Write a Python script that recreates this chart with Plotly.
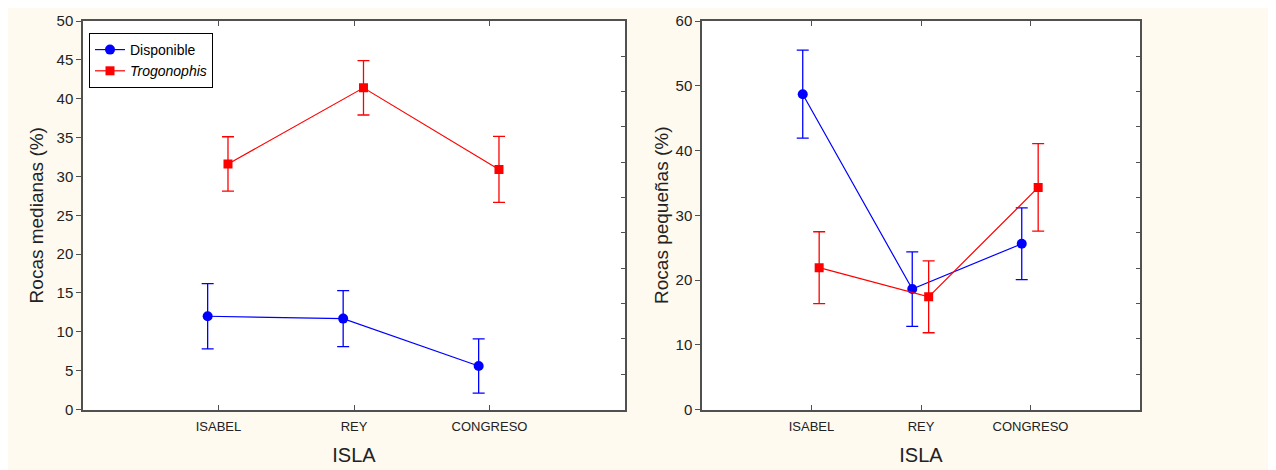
import plotly.graph_objects as go

# ---- data ----
categories = ["ISABEL", "REY", "CONGRESO"]

med_disp = [12.0, 11.7, 5.6]
med_disp_err = [4.2, 3.6, 3.5]
med_trog = [31.6, 41.4, 30.9]
med_trog_err = [3.5, 3.5, 4.25]

peq_disp = [48.7, 18.6, 25.6]
peq_disp_err = [6.8, 5.75, 5.55]
peq_trog = [21.9, 17.4, 34.3]
peq_trog_err = [5.55, 5.55, 6.75]

series_names = ["Disponible", "<i>Trogonophis</i>"]
left_ytitle = "Rocas medianas (%)"
right_ytitle = "Rocas pequeñas (%)"
xtitle = "ISLA"

# ---- figure ----
W, H = 1276, 470
OFF = 8  # page body margin
BLUE = "#0000FF"
RED = "#FF0000"
CREAM = "#FEFAF0"
FONT = "Liberation Sans, Arial, sans-serif"

pos = list(range(len(categories)))
off_b, off_r = -0.08, 0.07

fig = go.Figure()


def add_pair(disp, disp_err, trog, trog_err, xa, ya, show):
    fig.add_trace(go.Scatter(
        x=[p + off_b for p in pos], y=disp, name=series_names[0],
        mode="lines+markers", xaxis=xa, yaxis=ya, showlegend=show,
        line=dict(color=BLUE, width=1.2),
        marker=dict(symbol="circle", size=10, color=BLUE),
        error_y=dict(type="data", array=disp_err, visible=True,
                     color=BLUE, thickness=1.3, width=6),
    ))
    fig.add_trace(go.Scatter(
        x=[p + off_r for p in pos], y=trog, name=series_names[1],
        mode="lines+markers", xaxis=xa, yaxis=ya, showlegend=show,
        line=dict(color=RED, width=1.2),
        marker=dict(symbol="square", size=9, color=RED),
        error_y=dict(type="data", array=trog_err, visible=True,
                     color=RED, thickness=1.3, width=6),
    ))


add_pair(med_disp, med_disp_err, med_trog, med_trog_err, "x", "y", True)
add_pair(peq_disp, peq_disp_err, peq_trog, peq_trog_err, "x2", "y2", False)


def px_x(v):
    return (v - OFF) / W


def px_y(v):
    return 1 - (v - OFF) / H


ydom = [px_y(409.5), px_y(21)]
xdom1 = [px_x(83), px_x(625)]
xdom2 = [px_x(702), px_x(1140)]

AX = "#505050"
common_x = dict(
    range=[-1, 3], tickvals=pos, ticktext=categories,
    ticks="inside", ticklen=5, tickcolor=AX,
    showline=True, linecolor=AX, linewidth=1.5, mirror="ticks",
    showgrid=False, zeroline=False, automargin=False,
    ticklabelstandoff=4,
    tickfont=dict(family=FONT, size=13, color="#222"),
    title=dict(text=xtitle, font=dict(family=FONT, size=20, color="#222"), standoff=15),
)
common_y = dict(
    ticks="outside", ticklen=5, tickcolor=AX,
    showline=True, linecolor=AX, linewidth=1.5, mirror=True,
    showgrid=False, zeroline=False, automargin=False,
    tickfont=dict(family=FONT, size=15, color="#222"),
)
right_ticks = dict(
    range=[0, 11], dtick=1, ticks="inside", ticklen=4, tickcolor=AX,
    showticklabels=False, showline=False, showgrid=False, zeroline=False,
    side="right", automargin=False,
)

fig.update_layout(
    width=W, height=H,
    margin=dict(l=0, r=0, t=0, b=0, autoexpand=False),
    paper_bgcolor=CREAM, plot_bgcolor="white",
    font=dict(family=FONT, color="#222"),
    xaxis=dict(domain=xdom1, anchor="y", **common_x),
    xaxis2=dict(domain=xdom2, anchor="y2", **common_x),
    yaxis=dict(domain=ydom, anchor="x", range=[0, 50], dtick=5,
               title=dict(text=left_ytitle, font=dict(family=FONT, size=19, color="#222"), standoff=8),
               **common_y),
    yaxis2=dict(domain=ydom, anchor="x2", range=[0, 60], dtick=10,
                title=dict(text=right_ytitle, font=dict(family=FONT, size=19, color="#222"), standoff=2),
                **common_y),
    yaxis3=dict(overlaying="y", anchor="x", **right_ticks),
    yaxis4=dict(overlaying="y2", anchor="x2", **right_ticks),
    legend=dict(
        x=px_x(89), y=px_y(33), xanchor="left", yanchor="top",
        bgcolor="white", bordercolor="black", borderwidth=1,
        font=dict(family=FONT, size=14, color="black"),
        itemwidth=30, tracegroupgap=0,
    ),
)

# empty traces to activate right-side tick axes
fig.add_trace(go.Scatter(x=[None], y=[None], xaxis="x", yaxis="y3", showlegend=False, hoverinfo="skip"))
fig.add_trace(go.Scatter(x=[None], y=[None], xaxis="x2", yaxis="y4", showlegend=False, hoverinfo="skip"))

fig.write_html("out.html")
